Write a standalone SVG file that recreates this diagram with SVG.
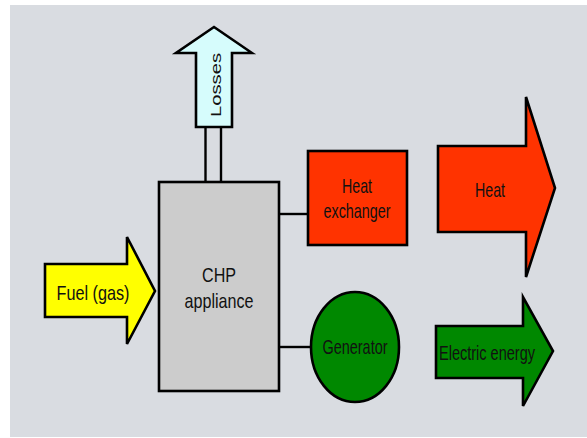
<svg xmlns="http://www.w3.org/2000/svg" width="587" height="438" viewBox="0 0 587 438">
  <style>
    .shape { stroke: #000; stroke-width: 2.6; stroke-linejoin: miter; }
    .link { stroke: #000; stroke-width: 2.4; fill: none; }
    .lbl { font-family: "Liberation Sans", Arial, sans-serif; font-size: 21px; fill: #111; text-anchor: middle; }
  </style>
  <rect x="0" y="0" width="587" height="438" fill="#ffffff"/>
  <rect x="10" y="5" width="577" height="432" fill="#d9dce1"/>

  <!-- connectors -->
  <g id="connectors">
    <line class="link" x1="205.5" y1="127" x2="205.5" y2="182"/>
    <line class="link" x1="221" y1="127" x2="221" y2="182"/>
    <line class="link" x1="279" y1="214" x2="308" y2="214"/>
    <line class="link" x1="279" y1="347" x2="311" y2="347"/>
  </g>

  <!-- fuel input arrow -->
  <g id="fuel">
    <polygon class="shape" fill="#ffff00" points="45,264 127,264 127,237 155,291 127,344 127,317 45,317"/>
    <text class="lbl" x="93" y="300" textLength="73" lengthAdjust="spacingAndGlyphs">Fuel (gas)</text>
  </g>

  <!-- CHP appliance -->
  <g id="chp">
    <rect class="shape" fill="#cccccc" x="159" y="182" width="120" height="209"/>
    <text class="lbl" x="219" y="282" textLength="34" lengthAdjust="spacingAndGlyphs">CHP</text>
    <text class="lbl" x="219" y="308" textLength="69" lengthAdjust="spacingAndGlyphs">appliance</text>
  </g>

  <!-- losses arrow -->
  <g id="losses">
    <polygon class="shape" fill="#d6fcfc" points="196,127 196,53 176,53 214,27 252,53 232,53 232,127"/>
    <text class="lbl" style="font-size:14px" transform="translate(221,85) rotate(-90)" x="0" y="0" textLength="64" lengthAdjust="spacingAndGlyphs">Losses</text>
  </g>

  <!-- heat exchanger -->
  <g id="heat-exchanger">
    <rect class="shape" fill="#ff3300" x="308" y="151" width="99" height="94"/>
    <text class="lbl" x="357" y="193" textLength="30" lengthAdjust="spacingAndGlyphs">Heat</text>
    <text class="lbl" x="357" y="218" textLength="67" lengthAdjust="spacingAndGlyphs">exchanger</text>
  </g>

  <!-- generator -->
  <g id="generator">
    <ellipse class="shape" fill="#008800" cx="355" cy="347" rx="44" ry="55"/>
    <text class="lbl" x="355" y="354" textLength="65" lengthAdjust="spacingAndGlyphs">Generator</text>
  </g>

  <!-- heat output arrow -->
  <g id="heat">
    <polygon class="shape" fill="#ff3300" points="438,146 526,146 526,97 555,188 526,277 526,232 438,232"/>
    <text class="lbl" x="490" y="197" textLength="30" lengthAdjust="spacingAndGlyphs">Heat</text>
  </g>

  <!-- electric energy output arrow -->
  <g id="electric">
    <polygon class="shape" fill="#008800" points="436,326 523,326 523,297 553,351 523,406 523,378 436,378"/>
    <text class="lbl" x="487" y="360" textLength="96" lengthAdjust="spacingAndGlyphs">Electric energy</text>
  </g>
</svg>
